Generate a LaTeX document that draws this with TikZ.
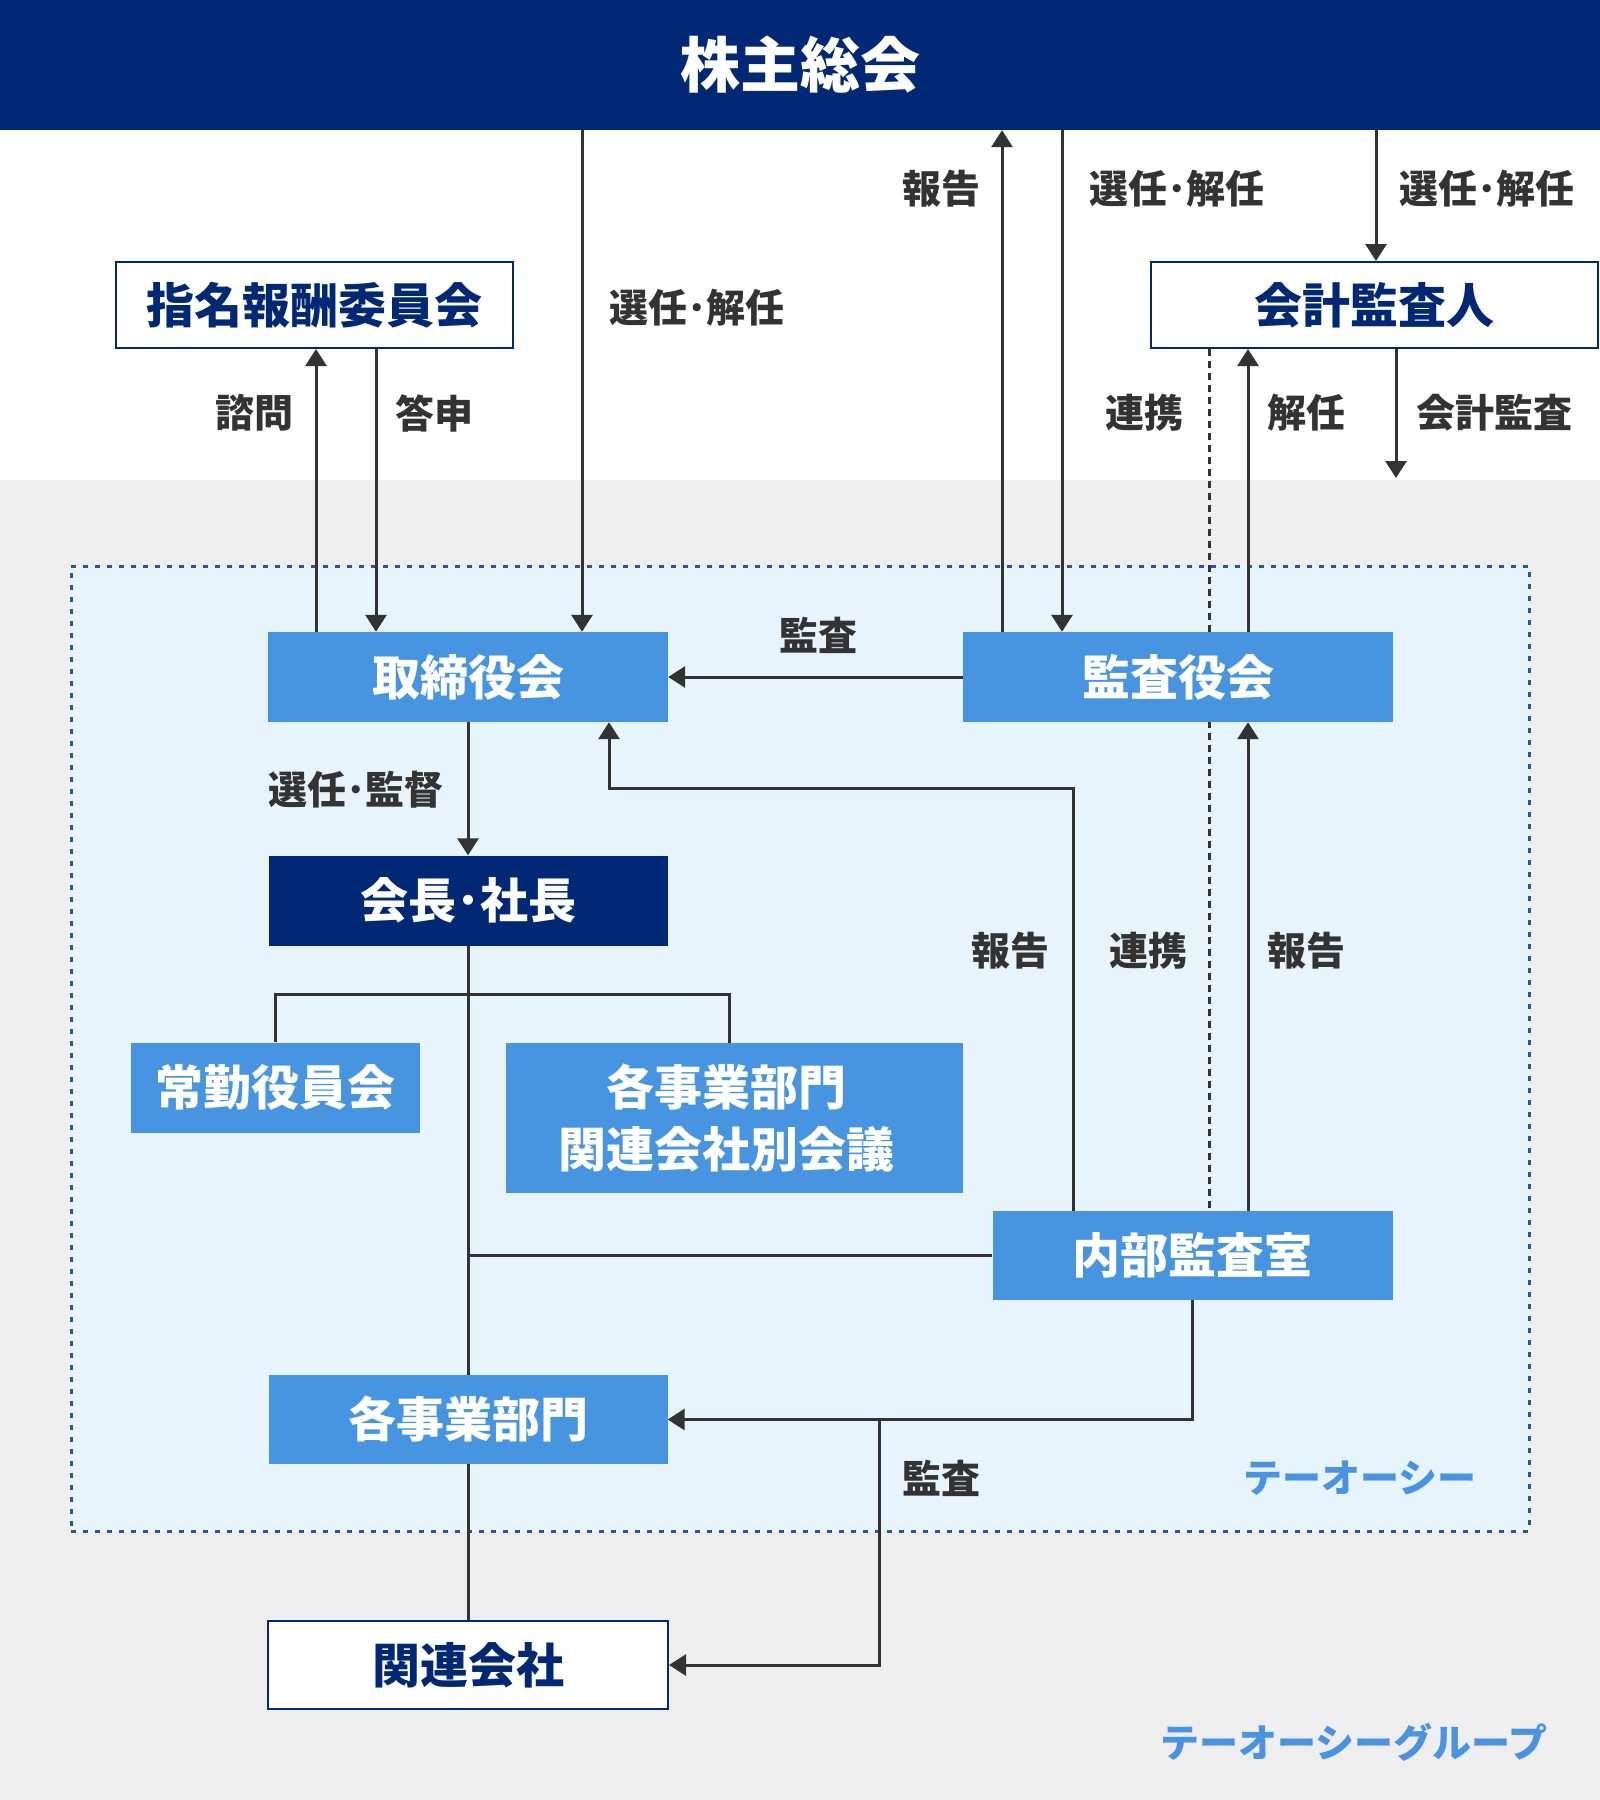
\documentclass[tikz,border=0pt]{standalone}
\usepackage{fontspec}
\setmainfont{Noto Sans CJK JP}
\usetikzlibrary{arrows.meta}
\definecolor{navy}{RGB}{0,40,116}
\definecolor{boxblue}{RGB}{71,148,224}
\definecolor{lightbg}{RGB}{232,244,252}
\definecolor{bggray}{RGB}{238,238,238}
\definecolor{dotblue}{RGB}{42,86,153}
\definecolor{dark}{RGB}{51,51,51}
\definecolor{toctext}{RGB}{74,146,226}
\pgfdeclarelayer{bgl}
\pgfdeclarelayer{lnl}
\pgfsetlayers{bgl,lnl,main}
\begin{document}
\begin{tikzpicture}[x=1pt,y=-1pt,
  bluebox/.style={rectangle, fill=boxblue, text=white, inner sep=0pt, align=center,
    font=\bfseries\fontsize{48}{62}\selectfont},
  navybox/.style={bluebox, fill=navy},
  wbox/.style={rectangle, fill=white, draw=navy, line width=2pt, text=navy, inner sep=0pt,
    font=\bfseries\fontsize{48}{62}\selectfont},
  lbl/.style={text=dark, inner sep=0pt, font=\bfseries\fontsize{39}{42}\selectfont},
  toclbl/.style={text=toctext, inner sep=0pt, font=\bfseries\fontsize{39}{42}\selectfont},
  conn/.style={draw=dark, line width=3pt},
  arr/.style={conn, -{Triangle[length=17pt,width=21pt]}},
  dashline/.style={draw=dark, line width=3pt, dash pattern=on 7pt off 5pt}
]
\useasboundingbox (0,0) rectangle (1600,1800);

% main nodes
\node[rectangle, fill=navy, minimum width=1600pt, minimum height=130pt, inner sep=0pt,
  text=white, font=\bfseries\fontsize{60}{62}\selectfont] (gm) at (800,65) {株主総会};
\node[wbox, minimum width=397pt, minimum height=86pt] (shimei) at (314.5,305) {指名報酬委員会};
\node[wbox, minimum width=447pt, minimum height=86pt] (kaikei) at (1374.5,305) {会計監査人};
\node[bluebox, minimum width=400pt, minimum height=90pt] (torishimari) at (468,677) {取締役会};
\node[bluebox, minimum width=430pt, minimum height=90pt] (kansa) at (1178,677) {監査役会};
\node[navybox, minimum width=399pt, minimum height=90pt] (kaicho) at (468,900.5) {会長･社長};
\node[bluebox, minimum width=289pt, minimum height=90pt] (joukin) at (275.5,1087.5) {常勤役員会};
\node[bluebox, minimum width=457pt, minimum height=150pt] (kakuji2) at (734.5,1118) {各事業部門\hspace*{16pt}\\関連会社別会議\hspace*{16pt}};
\node[bluebox, minimum width=400pt, minimum height=89pt] (naibu) at (1192.5,1255.5) {内部監査室};
\node[bluebox, minimum width=399pt, minimum height=89pt] (kakuji) at (468,1419.5) {各事業部門};
\node[wbox, minimum width=400pt, minimum height=88pt] (kanren) at (468,1665) {関連会社};

% labels
\node[lbl] (l1) at (941,189) {報告};
\node[lbl] (l2) at (1177,189) {選任･解任};
\node[lbl] (l3) at (1487,189) {選任･解任};
\node[lbl] (l4) at (697,308) {選任･解任};
\node[lbl] (l5) at (254,413) {諮問};
\node[lbl] (l6) at (434,413) {答申};
\node[lbl] (l7) at (1144,413) {連携};
\node[lbl] (l8) at (1306,413) {解任};
\node[lbl] (l9) at (1494,413) {会計監査};
\node[lbl] (l10) at (818,635) {監査};
\node[lbl] (l11) at (356,790) {選任･監督};
\node[lbl] (l12) at (1010,951) {報告};
\node[lbl] (l13) at (1148,951) {連携};
\node[lbl] (l14) at (1306,951) {報告};
\node[lbl] (l15) at (941,1478) {監査};
\node[toclbl] (toc) at (1360,1478) {テーオーシー};
\node[toclbl] (tocg) at (1354,1742) {テーオーシーグループ};

% helper coordinates
\coordinate (xA) at (316,0);
\coordinate (xB) at (376,0);
\coordinate (xC) at (582,0);
\coordinate (xD) at (1002,0);
\coordinate (xE) at (1062,0);
\coordinate (xF) at (1376,0);
\coordinate (xG) at (1209,0);
\coordinate (xH) at (1248,0);
\coordinate (xM) at (879,0);
\coordinate (audEnd) at (1396,478);
\coordinate (bend1) at (1073,788);
\coordinate (bend2) at (609,788);
\coordinate (brL) at (275.5,994);
\coordinate (brR) at (729,994);

% backgrounds
\begin{pgfonlayer}{bgl}
  \fill[white] (0,0) rectangle (1600,480);
  \fill[bggray] (0,480) rectangle (1600,1800);
  \node[rectangle, fill=lightbg, draw=dotblue, line width=3pt, dash pattern=on 5pt off 7pt,
    minimum width=1458pt, minimum height=965pt, inner sep=0pt] (tocbox) at (800,1048.5) {};
\end{pgfonlayer}

% connectors
\begin{pgfonlayer}{lnl}
  \draw[arr] (torishimari.north -| xA) -- (shimei.south -| xA);
  \draw[arr] (shimei.south -| xB) -- (torishimari.north -| xB);
  \draw[arr] (gm.south -| xC) -- (torishimari.north -| xC);
  \draw[arr] (kansa.north -| xD) -- (gm.south -| xD);
  \draw[arr] (gm.south -| xE) -- (kansa.north -| xE);
  \draw[arr] (gm.south -| xF) -- (kaikei.north -| xF);
  \draw[dashline] (kaikei.south -| xG) -- (naibu.north -| xG);
  \draw[arr] (kansa.north -| xH) -- (kaikei.south -| xH);
  \draw[arr] (kaikei.south -| audEnd) -- (audEnd);
  \draw[arr] (kansa.west) -- (torishimari.east);
  \draw[arr] (torishimari.south) -- (kaicho.north);
  \draw[arr] (naibu.north -| bend1) -- (bend1) -- (bend2) -- (torishimari.south -| bend2);
  \draw[arr] (naibu.north -| xH) -- (kansa.south -| xH);
  \draw[conn] (kaicho.south) -- (kakuji.north);
  \draw[conn] (joukin.north) -- (brL) -- (brR) -- (kakuji2.north -| brR);
  \draw[conn] (naibu.west) -- (naibu.west -| kaicho.south);
  \draw[conn] (kakuji.south) -- (kanren.north);
  \draw[arr] (naibu.south) |- (kakuji.east);
  \draw[arr] (kakuji.east -| xM) |- (kanren.east);
\end{pgfonlayer}
\end{tikzpicture}
\end{document}
